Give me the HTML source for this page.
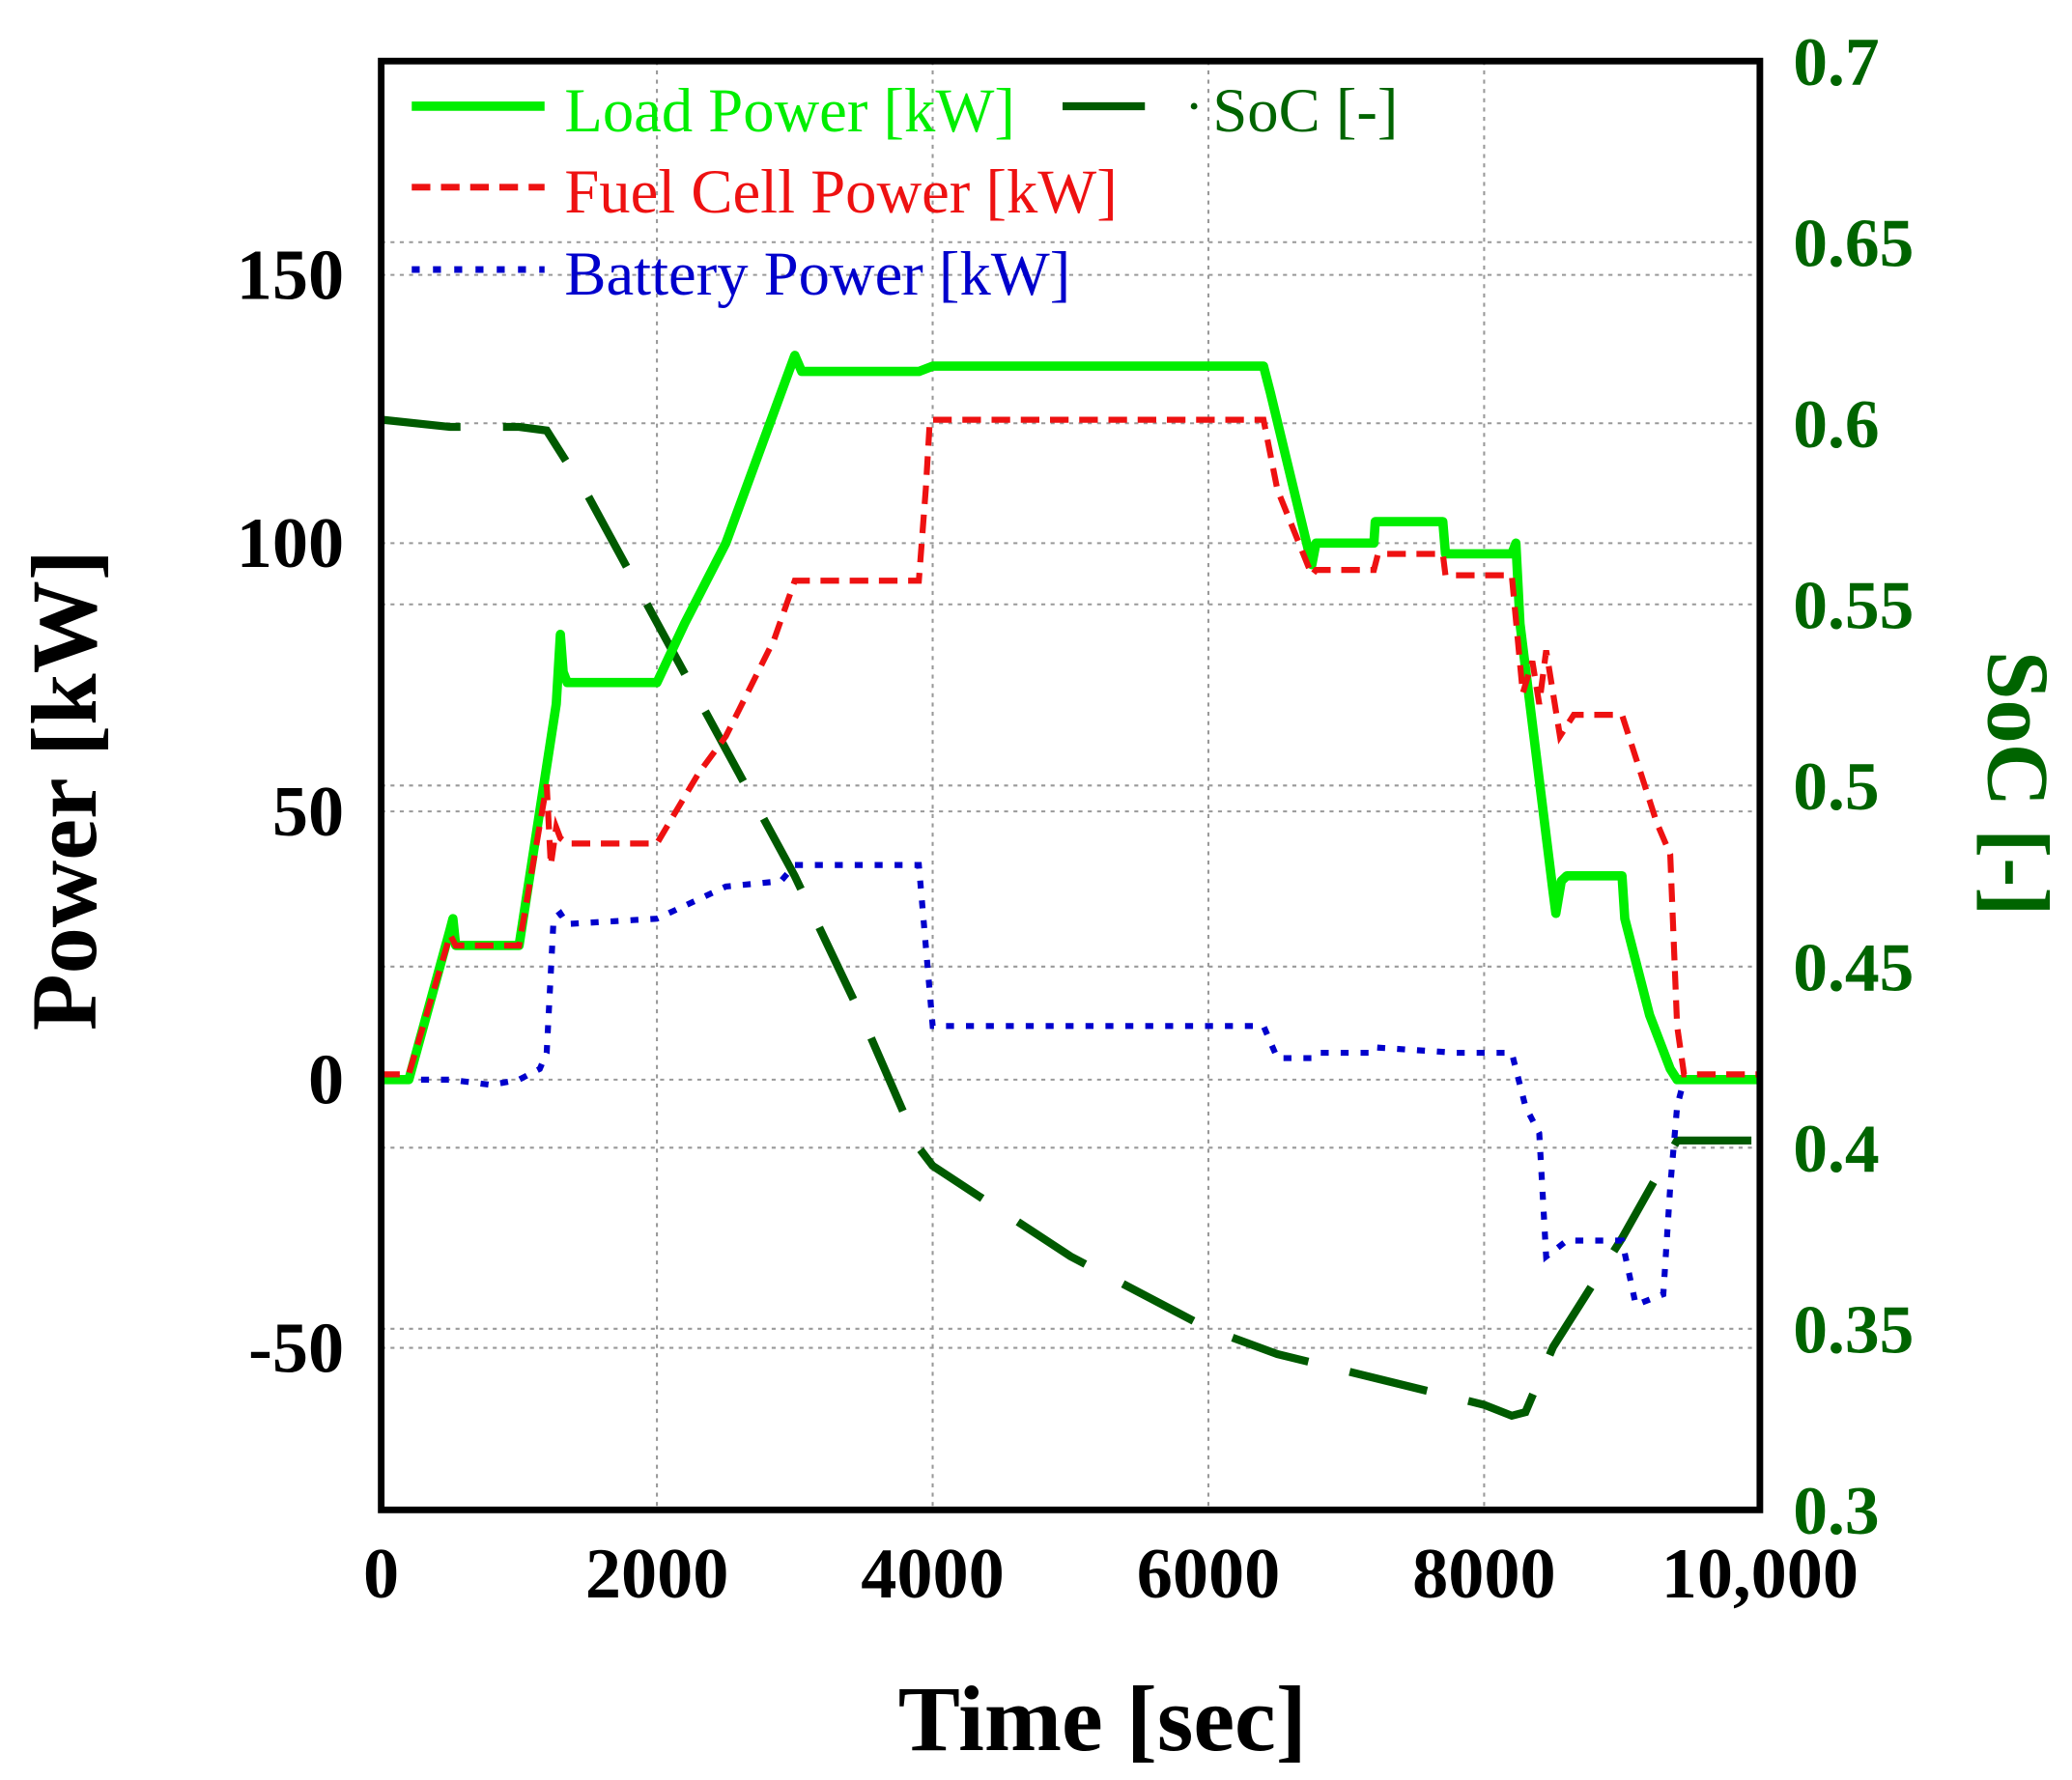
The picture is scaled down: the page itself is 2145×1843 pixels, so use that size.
<!DOCTYPE html>
<html><head><meta charset="utf-8"><style>
html,body{margin:0;padding:0;background:#fff;}
svg{display:block;}
text{font-family:"Liberation Serif",serif;}
</style></head><body>
<svg id="chart" width="2145" height="1843" viewBox="0 0 1560 1340.4" preserveAspectRatio="none" xmlns="http://www.w3.org/2000/svg">
<g id="grid"></g>
<g id="series"></g>
<rect x="287" y="46" width="1038" height="1091" fill="none" stroke="#000" stroke-width="5"/>
<g id="axes"></g>
<text transform="translate(72,595) rotate(-90)" text-anchor="middle" font-size="70" font-weight="bold">Power [kW]</text>
<text x="830" y="1318" text-anchor="middle" font-size="70" font-weight="bold">Time [sec]</text>
<text transform="translate(1497,590) rotate(90)" text-anchor="middle" font-size="66" font-weight="bold" fill="#006400">SoC [-]</text>
<g>
 <line x1="310" y1="80" x2="410" y2="80" stroke="#00ee00" stroke-width="7"/>
 <text x="425" y="99" font-size="47" fill="#00ee00">Load Power [kW]</text>
 <line x1="800" y1="80" x2="862" y2="80" stroke="#005a00" stroke-width="6"/>
 <circle cx="899" cy="80" r="2.5" fill="#005a00"/>
 <text x="913" y="99" font-size="47" fill="#006400">SoC [-]</text>
 <line x1="310" y1="141" x2="410" y2="141" stroke="#ee1111" stroke-width="5" stroke-dasharray="14 8"/>
 <text x="425" y="160" font-size="47" fill="#ee1111">Fuel Cell Power [kW]</text>
 <line x1="310" y1="203" x2="410" y2="203" stroke="#0000cc" stroke-width="5" stroke-dasharray="6 10"/>
 <text x="425" y="222" font-size="47" fill="#0000cc">Battery Power [kW]</text>
</g>
</svg>
<script>
const xTicks=[0,2000,4000,6000,8000,10000];
const xTickLabels=["0","2000","4000","6000","8000","10,000"];
const yTicks=[150,100,50,0,-50];
const yTickLabels=["150","100","50","0","-50"];
const socTicks=[0.7,0.65,0.6,0.55,0.5,0.45,0.4,0.35,0.3];
const socTickLabels=["0.7","0.65","0.6","0.55","0.5","0.45","0.4","0.35","0.3"];
const loadT=[0,200,500,520,540,1000,1270,1300,1320,1350,2000,2200,2500,3000,3050,3900,4000,6400,6450,6750,6780,7200,7210,7700,7720,8200,8230,8260,8500,8520,8560,8600,9000,9020,9200,9350,9400,10000];
const loadV=[0,0,28,30,25,25,70,83,76,74,74,85,100,135,132,132,133,133,128,96,100,100,104,104,98,98,100,85,35,31,37,38,38,30,12,2,0,0];
const fcT=[0,200,500,540,1000,1200,1230,1270,1300,1350,2000,2300,2500,2850,3000,3900,3950,3980,6400,6500,6750,6780,7200,7230,7700,7720,8200,8280,8350,8400,8450,8550,8650,9000,9100,9250,9350,9400,9450,10000];
const fcV=[1,1,27,25,25,55,40,47,45,44,44,57,64,82,93,93,110,123,123,110,94,95,95,98,98,94,94,72,78,70,80,64,68,68,60,48,42,10,1,1];
const batT=[0,500,800,1000,1150,1200,1250,1300,1350,2000,2500,2900,3000,3900,3950,4000,6400,6500,6750,6780,7200,7220,7800,8200,8300,8400,8450,8600,9000,9100,9300,9350,9400,9450,10000];
const batV=[0,0,-1,0,2,5,30,31,29,30,36,37,40,40,25,10,10,4,4,5,5,6,5,5,-5,-10,-33,-30,-30,-42,-40,-20,-5,0,0];
const socT=[0,500,1000,1200,1500,2000,2500,3000,3500,3900,4000,5000,6000,6500,8000,8200,8300,8500,9000,9400,10000];
const socV=[0.601,0.599,0.599,0.598,0.58,0.545,0.51,0.475,0.435,0.40,0.395,0.37,0.35,0.343,0.329,0.326,0.327,0.345,0.375,0.402,0.402];

const NS="http://www.w3.org/2000/svg";
const L=287,R=1325,T=46,B=1137;
const xs=t=>L+t/10000*(R-L);
const ys=v=>813-v*4.04;
const ss=s=>B-(s-0.3)/0.4*(B-T);
function mk(tag,attrs,parent){const e=document.createElementNS(NS,tag);for(const k in attrs)e.setAttribute(k,attrs[k]);parent.appendChild(e);return e;}
const grid=document.getElementById('grid'),axes=document.getElementById('axes'),series=document.getElementById('series');
xTicks.forEach((t,i)=>{
  if(t>0&&t<10000){const g=mk('line',{x1:xs(t),x2:xs(t),y1:T,y2:B,stroke:'#999','stroke-width':1.5,'stroke-dasharray':'3 4'},grid);
  
  }
  const tx=mk('text',{x:xs(t),y:1203,'text-anchor':'middle','font-size':54,'font-weight':'bold'},axes);
  tx.textContent=xTickLabels[i];
  
  
});
yTicks.forEach((v,i)=>{
  const g=mk('line',{x1:L,x2:R,y1:ys(v),y2:ys(v),stroke:'#999','stroke-width':1.5,'stroke-dasharray':'3 4'},grid);
  
  
  const tx=mk('text',{x:259,y:ys(v)+18,'text-anchor':'end','font-size':54,'font-weight':'bold'},axes);
  tx.textContent=yTickLabels[i];
  
  
});
socTicks.forEach((s,i)=>{
  if(s>0.3&&s<0.7){const g=mk('line',{x1:L,x2:R,y1:ss(s),y2:ss(s),stroke:'#999','stroke-width':1.5,'stroke-dasharray':'3 4'},grid);
  
  }
  const tx=mk('text',{x:1350,y:ss(s)+18,'font-size':52,'font-weight':'bold',fill:'#006400'},axes);
  tx.textContent=socTickLabels[i];
  
  
});
function pts(T_,V_,f){return T_.map((t,i)=>xs(t).toFixed(1)+','+f(V_[i]).toFixed(1)).join(' ');}
const soc=mk('polyline',{points:pts(socT,socV,ss),fill:'none',stroke:'#005a00','stroke-width':6,'stroke-dasharray':'60 32'},series);


const bat=mk('polyline',{points:pts(batT,batV,ys),fill:'none',stroke:'#0000cc','stroke-width':4.5,'stroke-dasharray':'6 9'},series);


const load=mk('polyline',{points:pts(loadT,loadV,ys),fill:'none',stroke:'#00ee00','stroke-width':7,'stroke-linejoin':'round'},series);


const fc=mk('polyline',{points:pts(fcT,fcV,ys),fill:'none',stroke:'#ee1111','stroke-width':4.5,'stroke-dasharray':'14 8'},series);


</script>
</body></html>
